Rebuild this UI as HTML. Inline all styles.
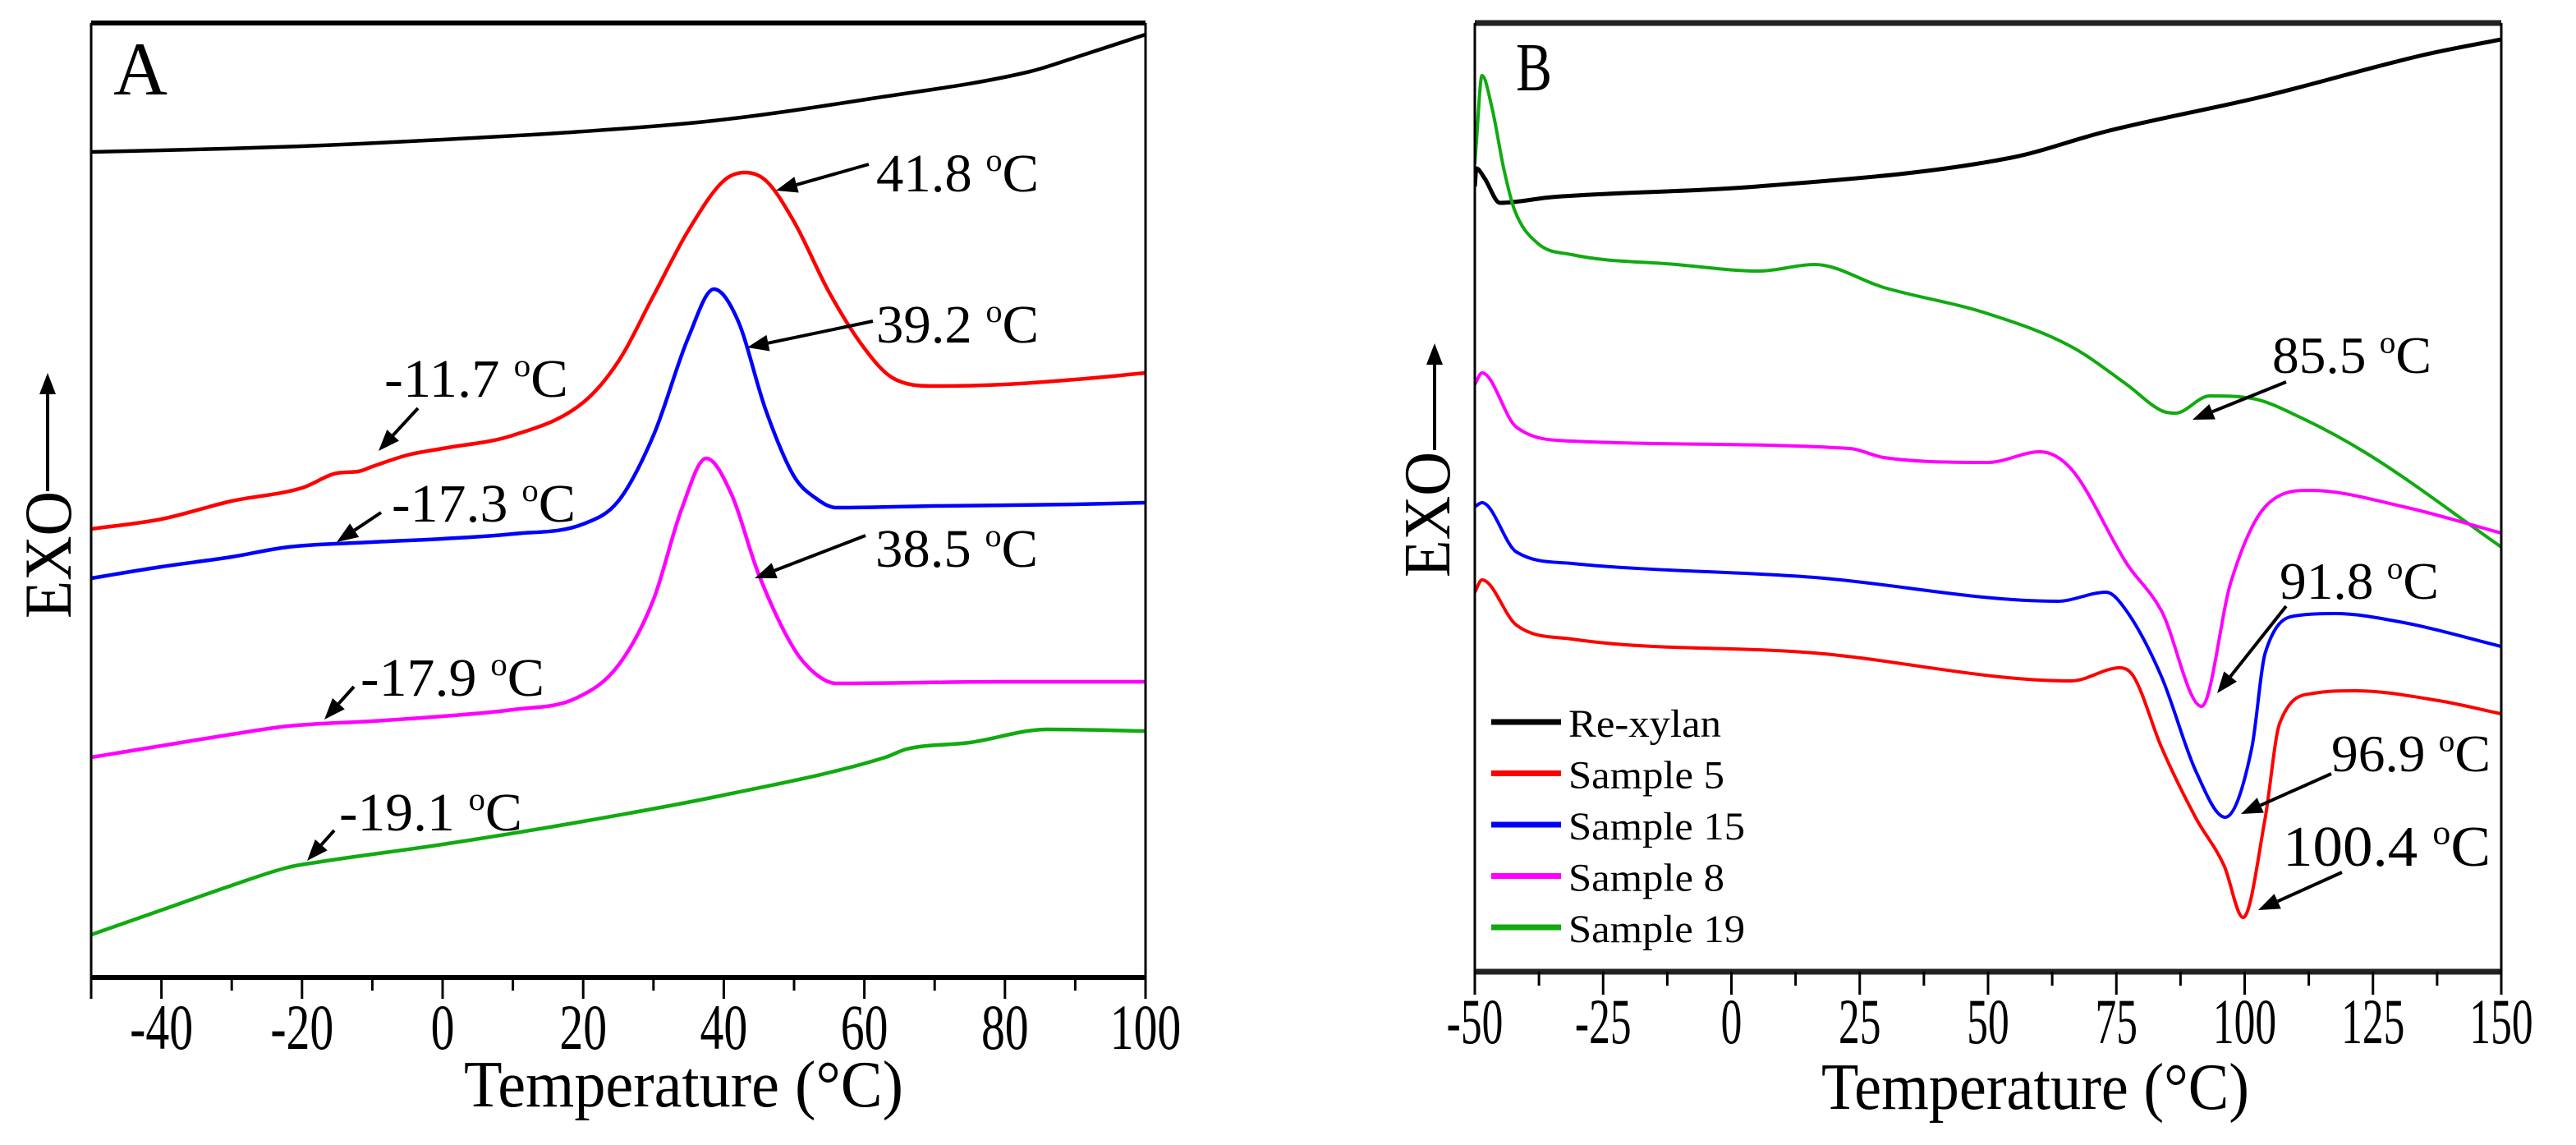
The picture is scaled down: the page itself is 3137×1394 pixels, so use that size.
<!DOCTYPE html>
<html><head><meta charset="utf-8"><style>
html,body{margin:0;padding:0;background:#fff;}
svg{display:block;}
text{font-family:"Liberation Serif",serif;fill:#000;}
</style></head><body>
<svg id="chart" width="3137" height="1394" viewBox="0 0 3137 1394" xmlns="http://www.w3.org/2000/svg">
<g id="panelA"></g>
<g id="panelB"></g>
</svg>
<script>
// ---------- Panel A data (x: temperature °C, y: heat flow arbitrary units) ----------
const aTicks = [-40,-20,0,20,40,60,80,100];
const aTickLabels = ["-40","-20","0","20","40","60","80","100"];
const aBlackX = [-50,-40,-20,0,20,38.5,61,83.6,90,100];
const aBlackY = [1005,1007,1012,1020,1030,1043,1070,1103,1120,1148];
const aRedX = [-50,-40,-30,-20,-15,-12,-10,-5,0,10,20,25,30,35,40,43,46,50,55,60,64,70,80,90,100];
const aRedY = [546,558,580,596,614,616,622,636,644,660,700,750,830,910,970,980,970,920,834,766,730,720,722,728,736];
const aBlueX = [-50,-40,-30,-22,-10,0,10,20,25,30,35,38.6,42,46,50,53,56,70,90,100];
const aBlueY = [486,500,512,524,530,534,540,552,580,660,780,838,800,690,610,584,572,574,576,578];
const aMagX = [-50,-40,-30,-22,-10,0,10,19,25,30,34,37.5,41,45,50,53,56,80,100];
const aMagY = [268,282,296,306,312,318,326,340,380,460,570,632,590,490,400,370,358,360,360];
const aGreenX = [-50,-40,-30,-22,-18,0,20,40,63,66,75,86,100];
const aGreenY = [52,82,112,134,140,162,190,222,268,278,286,302,300];

// ---------- Panel B data ----------
const bTicks = [-50,-25,0,25,50,75,100,125,150];
const bTickLabels = ["-50","-25","0","25","50","75","100","125","150"];
const bBlackX = [-50,-49.7,-48.1,-45.1,-35,5.1,54.5,73,103.9,134.8,150];
const bBlackY = [956,978,966,936,943,956,991,1023,1066,1116,1135];
const bGreenX = [-50,-49.7,-48.6,-46.6,-44.3,-42.3,-37.8,-31.1,-10.8,5.4,16.2,29.7,50,66.2,77,83.8,86.5,93.2,101.4,110.8,124.3,150];
const bGreenY = [983,1010,1091,1050,976,928,887,873,861,853,861,833,801,761,715,683,680,701,698,675,629,517];
const bMagX = [-50,-48.6,-41.9,-31.1,23,29.7,50,60.1,66.2,77,83.8,91.6,97.3,104,112.8,131,150];
const bMagY = [715,729,663,646,637,626,620,633,612,497,439,323,474,566,586,566,534];
const bBlueX = [-50,-48.6,-41.9,-31.1,16.2,63.5,73,77,83.8,90.5,96.2,101.4,104,110.8,117.6,131,150];
const bBlueY = [566,571,511,497,480,451,462,439,359,244,188,273,388,434,436,425,396];
const bRedX = [-50,-48.6,-41.9,-31.1,16.2,66.2,75.7,78.4,83.8,90.5,96,99.7,104,106.8,113.5,121.6,137.8,150];
const bRedY = [462,477,422,405,388,354,370,359,273,187,129,66,187,302,339,342,330,314];
const bLegend = ["Re-xylan","Sample 5","Sample 15","Sample 8","Sample 19"];

const NS = "http://www.w3.org/2000/svg";
function mk(tag, attrs, parent){
  const e = document.createElementNS(NS, tag);
  for (const k in attrs) e.setAttribute(k, attrs[k]);
  parent.appendChild(e);
  return e;
}
function axisFns(x0,x1,px0,px1,y0,y1,py0,py1){
  return {
    x: v => px0 + (v - x0) * (px1 - px0) / (x1 - x0),
    y: v => py0 + (v - y0) * (py1 - py0) / (y1 - y0)
  };
}
// monotone cubic (Fritsch-Carlson) path
function smoothPath(xs, ys, ax){
  const px = xs.map(ax.x), py = ys.map(ax.y), n = px.length;
  const d = [], m = new Array(n);
  for (let i=0;i<n-1;i++) d.push((py[i+1]-py[i])/(px[i+1]-px[i]));
  m[0]=d[0]; m[n-1]=d[n-2];
  for (let i=1;i<n-1;i++) m[i] = (d[i-1]*d[i] <= 0) ? 0 : (d[i-1]+d[i])/2;
  for (let i=0;i<n-1;i++){
    if (d[i]===0){ m[i]=0; m[i+1]=0; continue; }
    const a=m[i]/d[i], b=m[i+1]/d[i], s=a*a+b*b;
    if (s>9){ const t=3/Math.sqrt(s); m[i]=t*a*d[i]; m[i+1]=t*b*d[i]; }
  }
  let p = "M"+px[0].toFixed(1)+","+py[0].toFixed(1);
  for (let i=0;i<n-1;i++){
    const h=(px[i+1]-px[i])/3;
    p += " C"+(px[i]+h).toFixed(1)+","+(py[i]+m[i]*h).toFixed(1)+" "+(px[i+1]-h).toFixed(1)+","+(py[i+1]-m[i+1]*h).toFixed(1)+" "+px[i+1].toFixed(1)+","+py[i+1].toFixed(1);
  }
  return p;
}
function label(g, x, y, str, size, sx, anchor){
  const t = mk("text", {"font-size": size, "text-anchor": anchor || "start",
    transform: "translate("+x+","+y+") scale("+sx+",1)"}, g);
  t.textContent = str;
  return t;
}
function degLabel(g, x, y, num, width, size){
  const t = mk("text", {x: x, y: y, "font-size": size, textLength: width, lengthAdjust: "spacingAndGlyphs"}, g);
  const a = mk("tspan", {}, t); a.textContent = num + " ";
  const o = mk("tspan", {"font-size": size*0.6, dy: -size*0.38}, t); o.textContent = "o";
  const c = mk("tspan", {dy: size*0.38}, t); c.textContent = "C";
  return t;
}
function arrow(g, x1,y1,x2,y2){
  const grp = mk("g", {}, g);
  const dx=x2-x1, dy=y2-y1, L=Math.hypot(dx,dy), ux=dx/L, uy=dy/L;
  const hl=26, hw=10;
  const bx=x2-ux*hl, by=y2-uy*hl;
  mk("line",{x1:x1,y1:y1,x2:bx,y2:by,stroke:"#000","stroke-width":4},grp);
  mk("polygon",{points:x2+","+y2+" "+(bx-uy*hw)+","+(by+ux*hw)+" "+(bx+uy*hw)+","+(by-ux*hw),fill:"#000"},grp);
  return grp;
}

// ---------------- Panel A ----------------
(function(){
  const g = document.getElementById("panelA");
  const L=111,R=1395,T=28,B=1190;
  const ax = axisFns(-50,100,L,R, 0,1162,B,T);
  const curves = [[aBlackX,aBlackY,"#000","curve-black"],[aRedX,aRedY,"#ff0000","curve-red"],
    [aBlueX,aBlueY,"#0000ff","curve-blue"],[aMagX,aMagY,"#ff00ff","curve-magenta"],[aGreenX,aGreenY,"#11aa11","curve-green"]];
  const cp = mk("clipPath", {id:"clipA"}, g); mk("rect",{x:L,y:T,width:R-L,height:B-T},cp);
  const cg = mk("g", {"clip-path":"url(#clipA)"}, g);
  curves.forEach(c=>{
    const p = mk("path", {d: smoothPath(c[0],c[1],ax), fill:"none", stroke:c[2], "stroke-width":4.5}, cg);
    
    
  });
  mk("line",{x1:L,y1:T,x2:R,y2:T,stroke:"#000","stroke-width":6},g);
  mk("line",{x1:L,y1:B,x2:R,y2:B,stroke:"#000","stroke-width":6},g);
  mk("line",{x1:L,y1:T,x2:L,y2:B,stroke:"#000","stroke-width":3},g);
  mk("line",{x1:R,y1:T,x2:R,y2:B,stroke:"#000","stroke-width":3},g);
  for (let v=-50; v<=100; v+=10){
    const major = aTicks.indexOf(v) >= 0 || v===-50;
    mk("line",{x1:ax.x(v),y1:B,x2:ax.x(v),y2:B+(major?26:16),stroke:"#000","stroke-width":3},g);
  }
  aTicks.forEach((v,i)=>{
    const t = label(g, ax.x(v), 1277, aTickLabels[i], 78, 0.74, "middle");
    
    
  });
  const xt = mk("text",{x:565,y:1347,"font-size":80,textLength:535,lengthAdjust:"spacingAndGlyphs",},g);
  xt.textContent = "Temperature (°C)";
  const yt = mk("text",{x:0,y:0,"font-size":82,textLength:155,lengthAdjust:"spacingAndGlyphs",transform:"translate(86,753) rotate(-90)",},g);
  yt.textContent = "EXO";
  const ea = arrow(g, 58,598,58,454);
  
  
  const pl = mk("text",{x:138,y:115,"font-size":92,textLength:66,lengthAdjust:"spacingAndGlyphs",},g);
  pl.textContent = "A";
  const ann = [["41.8",1067,233,198,[1058,200,945,232]],["39.2",1067,417,198,[1063,391,910,423]],
    ["-11.7",468,483,224,[509,497,461,549]],["-17.3",477,635,224,[464,624,410,660]],
    ["38.5",1066,690,198,[1054,652,919,704]],["-17.9",439,847,224,[431,836,395,876]],
    ["-19.1",413,1011,223,[407,1011,374,1048]]];
  ann.forEach(a=>{
    const t = degLabel(g, a[1], a[2], a[0], a[3], 66);
    
    
    const l = arrow(g, a[4][0],a[4][1],a[4][2],a[4][3]);
    
    
  });
})();

// ---------------- Panel B ----------------
(function(){
  const g = document.getElementById("panelB");
  const L=1796,R=3046,T=28,B=1183;
  const ax = axisFns(-50,150,L,R, 0,1155,B,T);
  const curves = [[bBlackX,bBlackY,"#000","curve-re-xylan"],[bGreenX,bGreenY,"#11aa11","curve-sample-19"],
    [bMagX,bMagY,"#ff00ff","curve-sample-8"],[bBlueX,bBlueY,"#0000ff","curve-sample-15"],[bRedX,bRedY,"#ff0000","curve-sample-5"]];
  const cp = mk("clipPath", {id:"clipB"}, g); mk("rect",{x:L,y:T,width:R-L,height:B-T},cp);
  const cg = mk("g", {"clip-path":"url(#clipB)"}, g);
  curves.forEach(c=>{
    const p = mk("path", {d: smoothPath(c[0],c[1],ax), fill:"none", stroke:c[2], "stroke-width":c[2]==="#000"?5:4}, cg);
    
    
  });
  mk("line",{x1:L,y1:T,x2:R,y2:T,stroke:"#222","stroke-width":7},g);
  mk("line",{x1:L,y1:B,x2:R,y2:B,stroke:"#222","stroke-width":7},g);
  mk("line",{x1:L,y1:T,x2:L,y2:B,stroke:"#000","stroke-width":3},g);
  mk("line",{x1:R,y1:T,x2:R,y2:B,stroke:"#000","stroke-width":3},g);
  for (let v=-50; v<=150; v+=12.5){
    const major = bTicks.indexOf(v) >= 0;
    mk("line",{x1:ax.x(v),y1:B,x2:ax.x(v),y2:B+(major?28:17),stroke:"#000","stroke-width":3},g);
  }
  bTicks.forEach((v,i)=>{
    const t = label(g, ax.x(v), 1270, bTickLabels[i], 78, 0.66, "middle");
    
    
  });
  const xt = mk("text",{x:2218,y:1350,"font-size":80,textLength:521,lengthAdjust:"spacingAndGlyphs",},g);
  xt.textContent = "Temperature (°C)";
  const yt = mk("text",{x:0,y:0,"font-size":80,textLength:153,lengthAdjust:"spacingAndGlyphs",transform:"translate(1765,703) rotate(-90)",},g);
  yt.textContent = "EXO";
  const ea = arrow(g, 1747,548,1747,418);
  
  
  const pl = mk("text",{x:1846,y:110,"font-size":84,textLength:44,lengthAdjust:"spacingAndGlyphs",},g);
  pl.textContent = "B";
  const cols = ["#000","#ff0000","#0000ff","#ff00ff","#11aa11"];
  const widths = [186,190,215,190,215];
  bLegend.forEach((s,i)=>{
    const yy = 879 + i*62.5;
    const ln = mk("line",{x1:1816,y1:yy,x2:1901,y2:yy,stroke:cols[i],"stroke-width":7},g);
    
    
    const t = mk("text",{x:1910,y:yy+18,"font-size":48,textLength:widths[i],lengthAdjust:"spacingAndGlyphs"},g);
    t.textContent = s;
    
    
  });
  const ann = [["85.5",2767,454,194,64,[2784,465,2670,511]],["91.8",2776,729,194,64,[2784,738,2700,844]],
    ["96.9",2839,939,194,64,[2839,942,2729,991]],["100.4",2780,1054,253,70,[2852,1062,2750,1108]]];
  ann.forEach(a=>{
    const t = degLabel(g, a[1], a[2], a[0], a[3], a[4]);
    
    
    const l = arrow(g, a[5][0],a[5][1],a[5][2],a[5][3]);
    
    
  });
})();
</script>
</body></html>
